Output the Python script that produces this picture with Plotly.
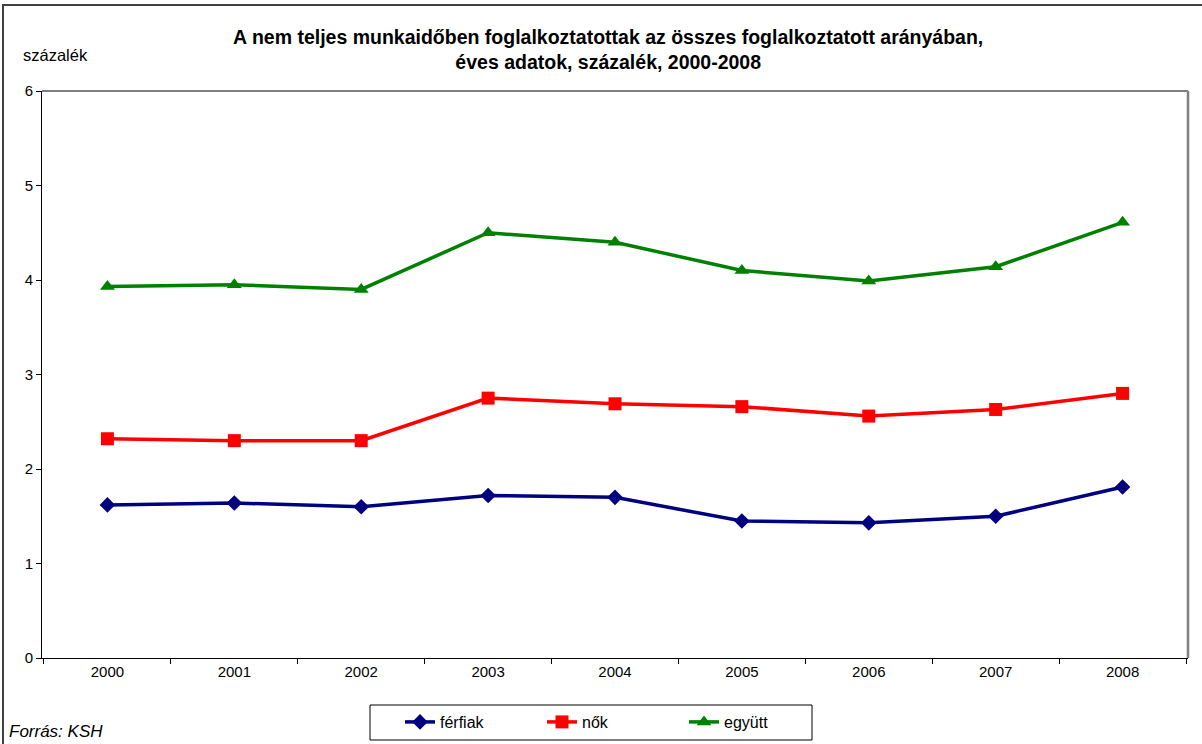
import plotly.graph_objects as go

years = ["2000", "2001", "2002", "2003", "2004", "2005", "2006", "2007", "2008"]
ferfiak = [1.62, 1.64, 1.60, 1.72, 1.70, 1.45, 1.43, 1.50, 1.81]
nok = [2.32, 2.30, 2.30, 2.75, 2.69, 2.66, 2.56, 2.63, 2.80]
egyutt = [3.93, 3.95, 3.90, 4.50, 4.40, 4.10, 3.99, 4.14, 4.61]
y_ticks = [0, 1, 2, 3, 4, 5, 6]

FONT = "Liberation Sans, Arial, sans-serif"

# plot area in pixels
L, R, T, B = 42, 1188, 91, 658
W, H = R - L, B - T


def px(x):
    return (x - L) / W


def py(y):
    return (B - y) / H


fig = go.Figure()
fig.add_trace(go.Scatter(
    x=years, y=ferfiak, name="férfiak", mode="lines+markers",
    line=dict(color="#000080", width=3.5),
    marker=dict(symbol="diamond", size=12, color="#000080"),
))
fig.add_trace(go.Scatter(
    x=years, y=nok, name="nők", mode="lines+markers",
    line=dict(color="#FF0000", width=3.5),
    marker=dict(symbol="square", size=13, color="#FF0000"),
))
fig.add_trace(go.Scatter(
    x=years, y=egyutt, name="együtt", mode="lines+markers",
    line=dict(color="#008000", width=3.5),
    marker=dict(symbol="triangle-up", size=13, color="#008000"),
))

fig.update_layout(
    width=1202, height=744,
    margin=dict(l=L, r=1202 - R, t=T, b=744 - B, autoexpand=False),
    paper_bgcolor="white", plot_bgcolor="white",
    font=dict(family=FONT, size=15, color="black"),
    title=dict(
        text="A nem teljes munkaidőben foglalkoztatottak az összes foglalkoztatott arányában,<br>éves adatok, százalék, 2000-2008",
        x=0.506, xanchor="center", y=0.9413, yanchor="middle",
        font=dict(family=FONT, size=19.5, color="black", weight="bold"),
    ),
    xaxis=dict(
        type="category", tickson="boundaries", ticks="outside", ticklen=5,
        tickcolor="black", showline=True, linecolor="black", linewidth=1,
        showgrid=False, tickfont=dict(size=15), zeroline=False,
    ),
    yaxis=dict(
        range=[0, 6], tickvals=y_ticks, ticks="outside", ticklen=5,
        tickcolor="black", showline=True, linecolor="black", linewidth=1,
        showgrid=False, zeroline=False, tickfont=dict(size=15),
    ),
    legend=dict(
        orientation="h", x=px(400), xanchor="left", y=py(722), yanchor="middle",
        borderwidth=0, bgcolor="rgba(0,0,0,0)",
        font=dict(size=16), entrywidth=97, itemwidth=30,
    ),
    showlegend=True,
)

# plotting-area frame: black top edge, gray right edge
fig.add_shape(type="line", xref="paper", yref="paper", x0=0, x1=1, y0=1, y1=1,
              line=dict(color="black", width=1), layer="below")
fig.add_shape(type="line", xref="paper", yref="paper", x0=1, x1=1, y0=0, y1=1,
              line=dict(color="#808080", width=2.5), layer="below")
# outer chart frame (left and top edges visible)
fig.add_shape(type="rect", xref="paper", yref="paper",
              x0=px(3), x1=px(1215), y0=py(770), y1=py(5),
              line=dict(color="#404040", width=2), layer="below")
# legend box
fig.add_shape(type="rect", xref="paper", yref="paper",
              x0=px(370), x1=px(812), y0=py(740), y1=py(705),
              line=dict(color="black", width=1), fillcolor="white", layer="below")

fig.add_annotation(text="százalék", xref="paper", yref="paper",
                   x=px(21), y=py(55), xanchor="left", yanchor="middle",
                   showarrow=False, font=dict(size=16.5))
fig.add_annotation(text="<i>Forrás: KSH</i>", xref="paper", yref="paper",
                   x=px(7), y=py(731), xanchor="left", yanchor="middle",
                   showarrow=False, font=dict(size=17))

fig.write_html("out.html")
